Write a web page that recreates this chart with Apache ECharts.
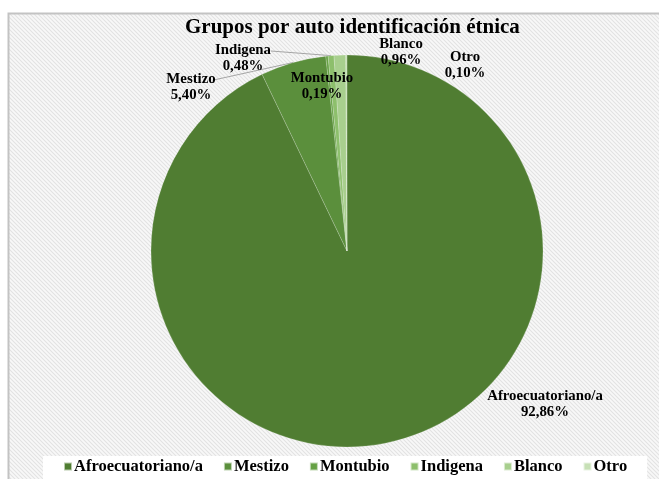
<!DOCTYPE html>
<html>
<head>
<meta charset="utf-8">
<script src="https://cdn.jsdelivr.net/npm/echarts@6/dist/echarts.min.js"></script>
<style>
html,body{margin:0;padding:0;background:#fff;}
#chart{width:659px;height:479px;}
</style>
</head>
<body>
<div id="chart"></div>
<script>
const titleText = 'Grupos por auto identificación étnica';
const categories = ['Afroecuatoriano/a', 'Mestizo', 'Montubio', 'Indigena', 'Blanco', 'Otro'];
const values = [92.86, 5.40, 0.19, 0.48, 0.96, 0.10];
const colors = ['#507d32', '#5b8f3c', '#66a145', '#8dbf6c', '#a8cf8e', '#c7e0b6'];

// label placement (centre of each label block) and whether a leader line is drawn
const labelCenters = [[545, 404], [191, 87], [322, 86], [243, 58], [401, 52], [465, 65]];
const withLine = [false, true, false, true, false, false];

const pat = document.createElement('canvas');
pat.width = 4; pat.height = 4;
const pc = pat.getContext('2d');
pc.fillStyle = '#f8f8f8'; pc.fillRect(0, 0, 4, 4);
pc.strokeStyle = '#e2e2e2'; pc.lineWidth = 1.1;
pc.beginPath();
pc.moveTo(-1, -1); pc.lineTo(5, 5);
pc.moveTo(-1, 3); pc.lineTo(1, 5);
pc.moveTo(3, -1); pc.lineTo(5, 1);
pc.stroke();

const FONT = '"Liberation Serif", "Times New Roman", serif';

const chart = echarts.init(document.getElementById('chart'));
const data = categories.map((c, i) => ({
  name: c,
  value: values[i],
  itemStyle: { color: colors[i] },
  labelLine: { show: withLine[i] }
}));

chart.setOption({
  backgroundColor: '#ffffff',
  animation: false,
  graphic: [{
    type: 'rect',
    z: -10,
    silent: true,
    shape: { x: 8.5, y: 13.5, width: 700, height: 520 },
    style: { fill: { image: pat, repeat: 'repeat' }, stroke: '#c3c3c3', lineWidth: 2 }
  }],
  title: {
    text: titleText,
    left: 180,
    top: 12,
    padding: 5,
    textStyle: { fontFamily: FONT, fontWeight: 'bold', fontSize: 21, color: '#000' }
  },
  legend: {
    data: categories,
    left: 43,
    top: 456,
    orient: 'horizontal',
    backgroundColor: '#ffffff',
    padding: [2, 20, 12, 20],
    itemWidth: 8,
    itemHeight: 8,
    itemGap: 20,
    icon: 'rect',
    textStyle: { fontFamily: FONT, fontWeight: 'bold', fontSize: 16.5, color: '#000', padding: [0, 0, 0, -3] }
  },
  series: [{
    type: 'pie',
    center: [347, 251],
    radius: 196,
    startAngle: 90,
    clockwise: true,
    avoidLabelOverlap: false,
    itemStyle: { borderColor: 'rgba(255,255,255,0.6)', borderWidth: 0.3 },
    label: {
      show: true,
      position: 'outside',
      fontFamily: FONT,
      fontWeight: 'bold',
      fontSize: 14.8,
      lineHeight: 16,
      color: '#000',
      align: 'center',
      formatter: p => p.name + '\n' + p.value.toFixed(2).replace('.', ',') + '%'
    },
    labelLine: { show: true, length: 10, length2: 10, lineStyle: { color: '#a5a5a5', width: 1 } },
    labelLayout: function (params) {
      const i = params.dataIndex;
      const c = labelCenters[i];
      const w = params.labelRect.width;
      const h = params.labelRect.height;
      const out = { x: c[0], y: c[1], align: 'center', verticalAlign: 'middle' };
      if (withLine[i] && params.labelLinePoints) {
        const p0 = params.labelLinePoints[0];
        const end = [c[0] + w / 2 - (i === 1 ? 2 : 0), c[1] - h / 4 + 1];
        out.labelLinePoints = [p0, [(p0[0] + end[0]) / 2, (p0[1] + end[1]) / 2], end];
      }
      return out;
    },
    data: data
  }]
});
</script>
</body>
</html>
